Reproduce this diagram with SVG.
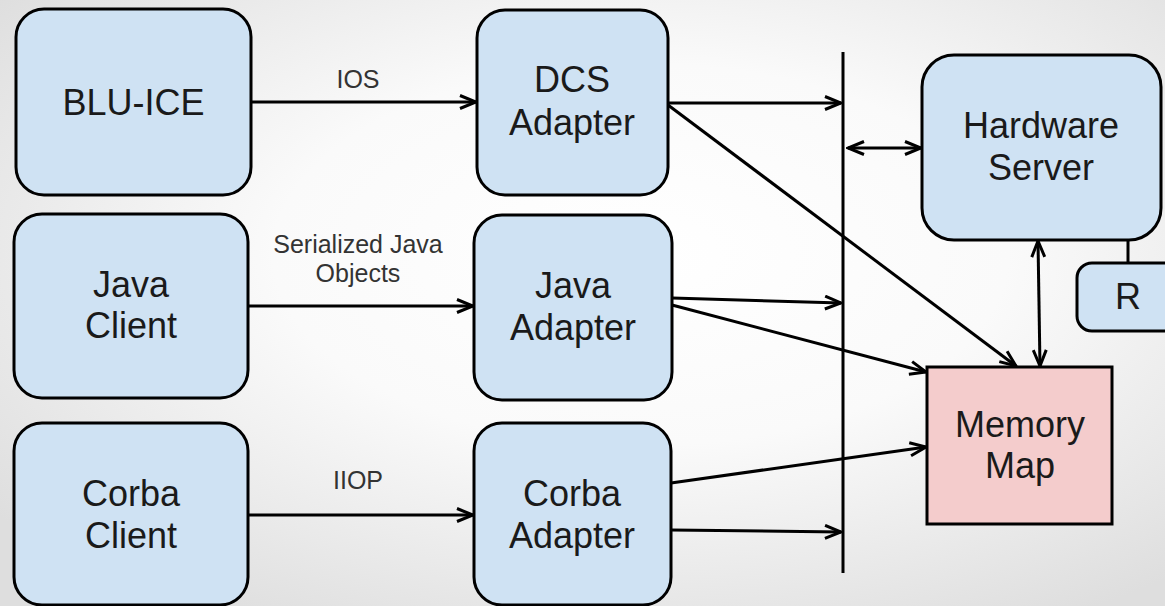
<svg xmlns="http://www.w3.org/2000/svg" width="1165" height="606" viewBox="0 0 1165 606">
<defs>
<radialGradient id="bg" cx="55%" cy="42%" r="70%">
<stop offset="0" stop-color="#ffffff"/>
<stop offset="0.45" stop-color="#fafafa"/>
<stop offset="1" stop-color="#dedede"/>
</radialGradient>
<marker id="ah" viewBox="0 0 20 16" refX="18" refY="8" markerWidth="20" markerHeight="16" markerUnits="userSpaceOnUse" orient="auto-start-reverse">
<path d="M2,1.5 L18,8 L2,14.5" fill="none" stroke="#000" stroke-width="3" stroke-linejoin="miter"/>
</marker>
</defs>
<style>
.box{fill:#cfe2f3;stroke:#000;stroke-width:3}
.mem{fill:#f4cccc;stroke:#000;stroke-width:3}
.t{font-family:"Liberation Sans",Arial,sans-serif;font-size:36px;fill:#1a1a1a;text-anchor:middle}
.s{font-family:"Liberation Sans",Arial,sans-serif;font-size:25px;fill:#333;text-anchor:middle}
.c{fill:none;stroke:#000;stroke-width:3}
</style>
<rect width="1165" height="606" fill="url(#bg)"/>

<g id="connectors">
<line class="c" x1="843" y1="52" x2="843" y2="573"/>
<line class="c" x1="251" y1="102" x2="476" y2="102" marker-end="url(#ah)"/>
<line class="c" x1="248" y1="306" x2="473" y2="306" marker-end="url(#ah)"/>
<line class="c" x1="248" y1="515" x2="473" y2="515" marker-end="url(#ah)"/>
<line class="c" x1="668" y1="103" x2="841" y2="103" marker-end="url(#ah)"/>
<line class="c" x1="668" y1="105" x2="1016" y2="366" marker-end="url(#ah)"/>
<line class="c" x1="672" y1="298" x2="841" y2="303" marker-end="url(#ah)"/>
<line class="c" x1="672" y1="305" x2="926" y2="372" marker-end="url(#ah)"/>
<line class="c" x1="671" y1="483" x2="926" y2="447" marker-end="url(#ah)"/>
<line class="c" x1="671" y1="530" x2="841" y2="532" marker-end="url(#ah)"/>
<line class="c" x1="848" y1="148" x2="921" y2="148" marker-start="url(#ah)" marker-end="url(#ah)"/>
<line class="c" x1="1038" y1="241" x2="1040" y2="366" marker-start="url(#ah)" marker-end="url(#ah)"/>
<line class="c" x1="1128" y1="240" x2="1128" y2="263"/>
<text class="s" x="358" y="88">IOS</text>
<text class="s" x="358" y="253">Serialized Java</text>
<text class="s" x="358" y="282">Objects</text>
<text class="s" x="358" y="489">IIOP</text>
</g>

<g id="bluice">
<rect class="box" x="16" y="9" width="235" height="186" rx="28"/>
<text class="t" x="133.5" y="115">BLU-ICE</text>
</g>
<g id="javaclient">
<rect class="box" x="14" y="214" width="234" height="184" rx="28"/>
<text class="t" x="131" y="297">Java</text>
<text class="t" x="131" y="338">Client</text>
</g>
<g id="corbaclient">
<rect class="box" x="14" y="423" width="234" height="182" rx="28"/>
<text class="t" x="131" y="506">Corba</text>
<text class="t" x="131" y="548">Client</text>
</g>
<g id="dcsadapter">
<rect class="box" x="477" y="10" width="191" height="185" rx="28"/>
<text class="t" x="572" y="92">DCS</text>
<text class="t" x="572" y="135">Adapter</text>
</g>
<g id="javaadapter">
<rect class="box" x="474" y="215" width="198" height="185" rx="28"/>
<text class="t" x="573" y="298">Java</text>
<text class="t" x="573" y="340">Adapter</text>
</g>
<g id="corbaadapter">
<rect class="box" x="474" y="423" width="197" height="182" rx="28"/>
<text class="t" x="572" y="506">Corba</text>
<text class="t" x="572" y="548">Adapter</text>
</g>
<g id="hardwareserver">
<rect class="box" x="922" y="55" width="239" height="185" rx="32"/>
<text class="t" x="1041" y="138">Hardware</text>
<text class="t" x="1041" y="180">Server</text>
</g>
<g id="r">
<rect class="box" x="1077" y="263" width="110" height="68" rx="15"/>
<text class="t" x="1128" y="309">R</text>
</g>
<g id="memorymap">
<rect class="mem" x="927" y="367" width="185" height="157"/>
<text class="t" x="1020" y="437">Memory</text>
<text class="t" x="1020" y="478">Map</text>
</g>
</svg>
